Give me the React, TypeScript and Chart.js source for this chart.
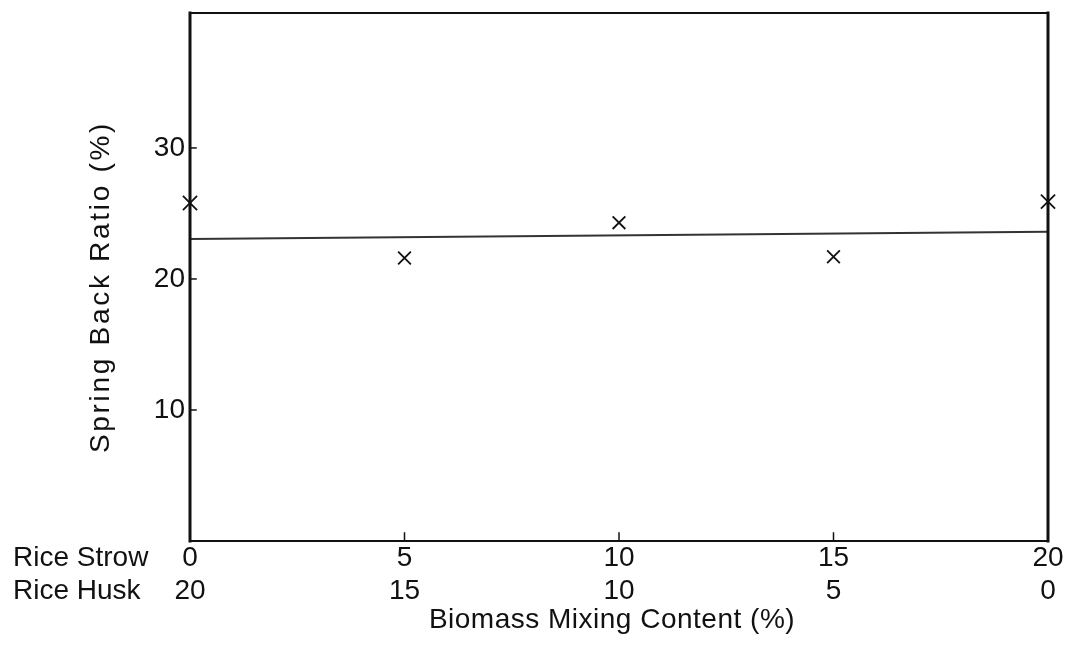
import React, { useEffect, useRef } from 'react';
import { Chart, registerables } from 'chart.js';

Chart.register(...registerables);

// ---- data ----
const mixContent = [0, 5, 10, 15, 20];
const springBackRatio = [25.8, 21.6, 24.3, 21.7, 25.9];
const strowLabels = ['0', '5', '10', '15', '20'];
const huskLabels = ['20', '15', '10', '5', '0'];
const yTickValues = [10, 20, 30];
const fitLineX = [0, 20];
const fitLineY = [23.05, 23.6];
const rowNames = ['Rice Strow', 'Rice Husk'];
const xTitle = 'Biomass Mixing Content (%)';
const yTitle = 'Spring Back Ratio (%)';

const FONT = '"Liberation Sans", Arial, sans-serif';
const FS = 28;

const framePlugin = {
  id: 'frame',
  afterDraw(chart: any) {
    const { ctx, chartArea: a, scales } = chart;
    const xs = scales.x;
    const ys = scales.y;
    ctx.save();
    ctx.strokeStyle = '#111';
    ctx.lineCap = 'square';
    const seg = (x1: number, y1: number, x2: number, y2: number, w: number) => {
      ctx.lineWidth = w;
      ctx.beginPath();
      ctx.moveTo(x1, y1);
      ctx.lineTo(x2, y2);
      ctx.stroke();
    };
    // box
    seg(a.left, a.top, a.left, a.bottom, 3);
    seg(a.right, a.top, a.right, a.bottom, 3);
    seg(a.left, a.top, a.right, a.top, 2);
    seg(a.left, a.bottom, a.right, a.bottom, 2);
    // inward ticks
    yTickValues.forEach((v) => {
      const py = ys.getPixelForValue(v);
      seg(a.left, py, a.left + 6, py, 1.5);
    });
    mixContent.slice(1, -1).forEach((v) => {
      const px = xs.getPixelForValue(v);
      seg(px, a.bottom, px, a.bottom - 8, 1.5);
    });
    // texts
    ctx.fillStyle = '#111';
    ctx.font = `${FS}px ${FONT}`;
    ctx.textBaseline = 'middle';
    ctx.textAlign = 'left';
    const lh = FS * 1.2;
    const y1 = xs.top + lh / 2;
    ctx.fillText(rowNames[0], 13, y1);
    ctx.fillText(rowNames[1], 13, y1 + lh);
    // x title
    ctx.textAlign = 'center';
    (ctx as any).letterSpacing = '0.5px';
    ctx.fillText(xTitle, 612, y1 + lh * 2 - 5);
    // y title
    (ctx as any).letterSpacing = '2.7px';
    ctx.translate(101, 287);
    ctx.rotate(-Math.PI / 2);
    ctx.fillText(yTitle, 0, 0);
    ctx.restore();
  },
};

export default function App() {
  const ref = useRef<HTMLCanvasElement>(null);

  useEffect(() => {
    if (!ref.current) return;
    const chart = new Chart(ref.current, {
      type: 'scatter',
      data: {
        datasets: [
          {
            type: 'scatter',
            label: 'Spring back ratio',
            data: mixContent.map((x, i) => ({ x, y: springBackRatio[i] })),
            pointStyle: 'crossRot',
            pointRadius: (c: any) => (c.dataIndex === 0 || c.dataIndex === mixContent.length - 1 ? 10 : 9),
            pointBorderWidth: 1.8,
            borderColor: '#111',
            backgroundColor: '#111',
            clip: false as any,
          },
          {
            type: 'line',
            label: 'Fit',
            data: fitLineX.map((x, i) => ({ x, y: fitLineY[i] })),
            borderColor: '#333',
            borderWidth: 2,
            pointRadius: 0,
            fill: false,
          },
        ],
      },
      options: {
        animation: false,
        responsive: true,
        maintainAspectRatio: false,
        layout: { padding: { left: 0, right: 21, top: 13, bottom: 0 } },
        plugins: { legend: { display: false }, tooltip: { enabled: false } },
        scales: {
          x: {
            type: 'linear',
            min: 0,
            max: 20,
            grid: { display: false, drawTicks: false },
            border: { display: false },
            afterBuildTicks: (s: any) => {
              s.ticks = mixContent.map((v) => ({ value: v }));
            },
            afterFit: (s: any) => {
              s.height = 116;
              s.paddingLeft = 0;
              s.paddingRight = 0;
            },
            ticks: {
              padding: 0,
              maxRotation: 0,
              autoSkip: false,
              color: '#111',
              font: { family: FONT, size: FS },
              callback: (v: any) => {
                const i = mixContent.indexOf(Number(v));
                return i >= 0 ? [strowLabels[i], huskLabels[i]] : '';
              },
            },
          },
          y: {
            type: 'linear',
            min: 0,
            max: 40.3,
            grid: { display: false, drawTicks: false },
            border: { display: false },
            afterBuildTicks: (s: any) => {
              s.ticks = yTickValues.map((v) => ({ value: v }));
            },
            afterFit: (s: any) => {
              s.width = 190;
              s.paddingTop = 0;
              s.paddingBottom = 0;
            },
            ticks: {
              padding: 5,
              color: '#111',
              font: { family: FONT, size: FS },
              callback: (v: any) => String(v),
            },
          },
        },
      },
      plugins: [framePlugin],
    });
    return () => chart.destroy();
  }, []);

  return (
    <div style={{ position: 'absolute', left: 0, top: 0, width: 1069, height: 657, background: '#fff' }}>
      <canvas ref={ref} />
    </div>
  );
}
